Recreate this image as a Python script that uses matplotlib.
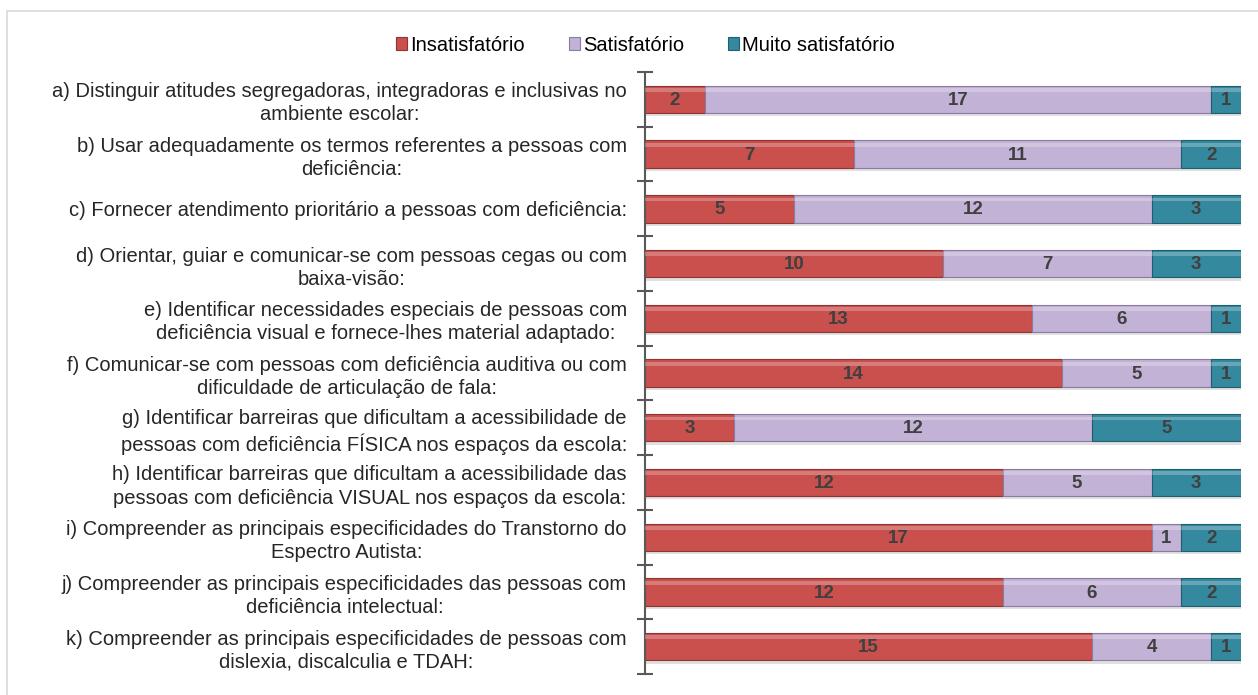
import matplotlib
matplotlib.use("Agg")
import matplotlib.pyplot as plt
from matplotlib.patches import Rectangle
import numpy as np

plt.rcParams['font.family'] = ['Liberation Sans', 'DejaVu Sans']

categories = [
    "a) Distinguir atitudes segregadoras, integradoras e inclusivas no\nambiente escolar:",
    "b) Usar adequadamente os termos referentes a pessoas com\ndeficiência:",
    "c) Fornecer atendimento prioritário a pessoas com deficiência:",
    "d) Orientar, guiar e comunicar-se com pessoas cegas ou com\nbaixa-visão:",
    "e) Identificar necessidades especiais de pessoas com\ndeficiência visual e fornece-lhes material adaptado:",
    "f) Comunicar-se com pessoas com deficiência auditiva ou com\ndificuldade de articulação de fala:",
    "g) Identificar barreiras que dificultam a acessibilidade de\npessoas com deficiência FÍSICA nos espaços da escola:",
    "h) Identificar barreiras que dificultam a acessibilidade das\npessoas com deficiência VISUAL nos espaços da escola:",
    "i) Compreender as principais especificidades do Transtorno do\nEspectro Autista:",
    "j) Compreender as principais especificidades das pessoas com\ndeficiência intelectual:",
    "k) Compreender as principais especificidades de pessoas com\ndislexia, discalculia e TDAH:",
]
insatisfatorio = [2, 7, 5, 10, 13, 14, 3, 12, 17, 12, 15]
satisfatorio = [17, 11, 12, 7, 6, 5, 12, 5, 1, 6, 4]
muito_satisfatorio = [1, 2, 3, 3, 1, 1, 5, 3, 2, 2, 1]
series_names = ["Insatisfatório", "Satisfatório", "Muito satisfatório"]

colors = ["#C9504D", "#C2B2D6", "#34899F"]
edges = ["#8E3532", "#8A7BA0", "#1F5E6E"]

fig = plt.figure(figsize=(12.58, 6.95), dpi=100)
fig.patches.append(Rectangle((7/1258, -0.1), 1.2, 1.1 - 11/695, transform=fig.transFigure,
                             fill=False, edgecolor="#D9D9D9", linewidth=1.2))
ax = fig.add_axes([645/1258, 1-674/695, (1241-645)/1258, (674-72)/695])

n = len(categories)
y = np.arange(n)
data = [insatisfatorio, satisfatorio, muito_satisfatorio]
left = np.zeros(n)
handles = []
for vals, name, c, ec in zip(data, series_names, colors, edges):
    vals = np.array(vals, dtype=float)
    # shadow
    ax.barh(y + 0.06, vals, left=left + 0.05, height=0.5, color="#000000", alpha=0.12,
            linewidth=0, zorder=1)
    bars = ax.barh(y, vals, left=left, height=0.5, color=c, edgecolor=ec,
                   linewidth=0.8, label=name, zorder=2)
    # highlight strip
    ax.barh(y - 0.17, vals, left=left, height=0.07, color="white", alpha=0.25,
            linewidth=0, zorder=3)
    handles.append(bars)
    for yi, l, v in zip(y, left, vals):
        ax.text(l + v/2, yi + 0.02, f"{int(v)}", ha="center", va="center",
                fontsize=13.5, fontweight="bold", color="#404040", zorder=4)
    left += vals

ax.set_xlim(0, 20)
ax.set_ylim(n - 0.5, -0.5)
ax.set_yticks(y)
ax.set_yticklabels(categories, fontsize=14.5, multialignment="center", color="#262626",
                   linespacing=1.27)
ax.tick_params(axis="y", length=0, pad=13)
ax.set_yticks(np.arange(-0.5, n, 1.0), minor=True)
ax.tick_params(axis="y", which="minor", length=12, direction="inout", width=1.5, color="#595959")
ax.set_xticks([])
for s in ["top", "right", "bottom"]:
    ax.spines[s].set_visible(False)
ax.spines["left"].set_color("#595959")
ax.spines["left"].set_linewidth(1.5)

fig.legend(handles=handles, labels=series_names, loc="center", bbox_to_anchor=(0.513, 0.935),
           ncol=3, frameon=False, fontsize=14.5, handlelength=0.55, handleheight=0.55,
           handletextpad=0.15, columnspacing=2.2)

fig.savefig("out.png", dpi=100)
